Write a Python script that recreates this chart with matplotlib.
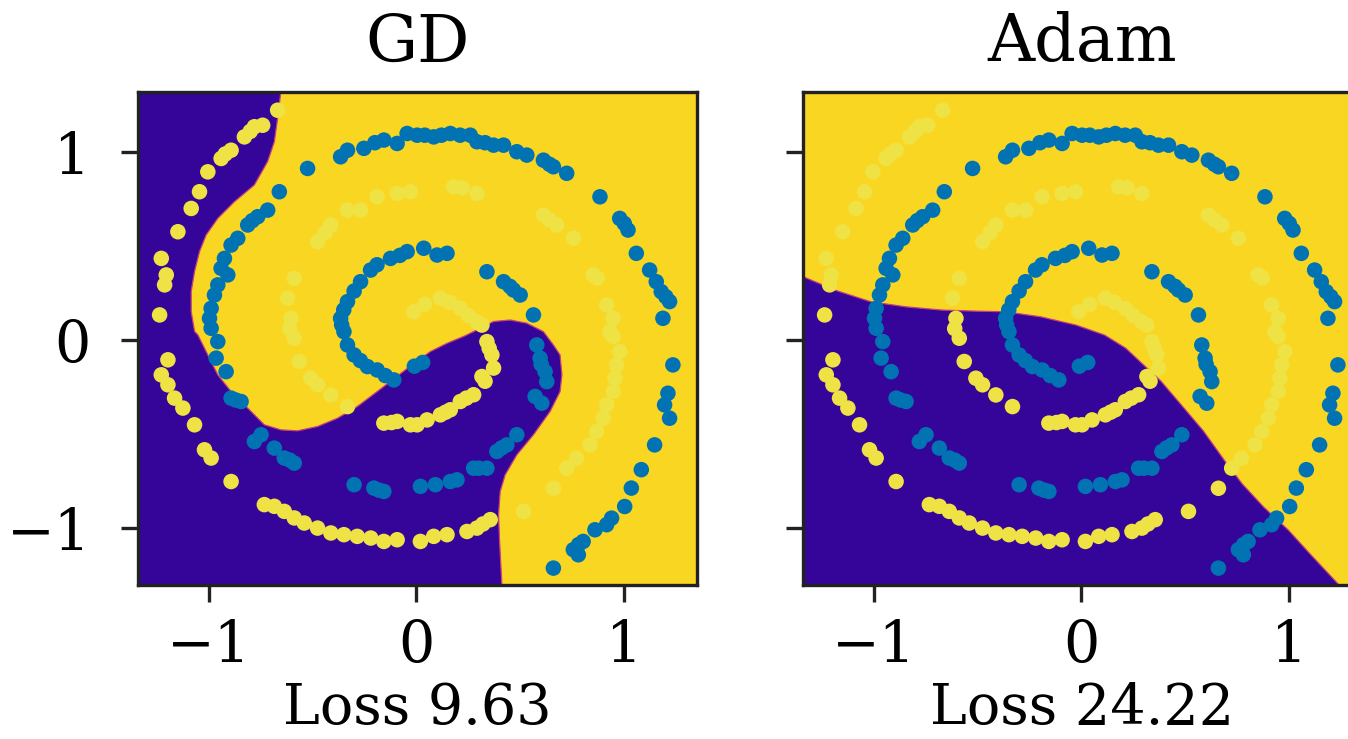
import matplotlib
matplotlib.use("Agg")
import matplotlib.pyplot as plt

# ---------------- data ----------------
titles = ["GD", "Adam"]
loss_labels = ["Loss 9.63", "Loss 24.22"]
ticks = [-1, 0, 1]
xlim = (-1.34, 1.35)
ylim = (-1.305, 1.32)

# blue spiral (class 0), from centre outward
blue_x = [0.03, -0.01, -0.109, -0.15, -0.189, -0.236, -0.27, -0.30, -0.332, -0.349, -0.36, -0.365,
          -0.35, -0.332, -0.30, -0.269, -0.221, -0.19, -0.125, -0.08, -0.045, 0.035, 0.099, 0.147,
          0.339, 0.419, 0.45, 0.467, 0.499, 0.563, 0.579, 0.595, 0.60, 0.619, 0.627, 0.571, 0.603,
          0.483, 0.435, 0.41, 0.387, 0.339, 0.30, 0.275, 0.195, 0.163, 0.091, 0.019,
          -0.157, -0.18, -0.205, -0.30,
          -0.588, -0.61, -0.636, -0.684, -0.748, -0.78,
          -0.844, -0.87, -0.892, -0.916, -0.964, -0.956, -0.988, -0.996, -0.988, -0.972, -0.956,
          -0.908, -0.94, -0.924, -0.892, -0.86, -0.812, -0.79, -0.764, -0.716, -0.66,
          -0.524, -0.365, -0.332, -0.253, -0.2, -0.157, -0.093, -0.045, 0.003, 0.04, 0.083, 0.12,
          0.163, 0.21, 0.259, 0.291, 0.33, 0.371, 0.419, 0.483, 0.531, 0.611, 0.64, 0.659, 0.723,
          0.883, 0.978, 1.0, 1.018, 1.058, 1.122, 1.154, 1.178, 1.2, 1.218, 1.186,
          1.234, 1.21, 1.194, 1.218, 1.146, 1.082, 1.034, 1.002, 0.939, 0.915, 0.859, 0.802,
          0.78, 0.755, 0.779, 0.659]
blue_y = [-0.12, -0.14, -0.213, -0.19, -0.16, -0.142, -0.11, -0.08, -0.027, 0.044, 0.08, 0.115,
          0.16, 0.204, 0.26, 0.31, 0.372, 0.40, 0.434, 0.45, 0.47, 0.488, 0.452, 0.461,
          0.363, 0.31, 0.285, 0.266, 0.239, 0.133, -0.027, -0.097, -0.13, -0.169, -0.222, -0.301, -0.337,
          -0.505, -0.559, -0.575, -0.594, -0.683, -0.683, -0.683, -0.745, -0.754, -0.771, -0.78,
          -0.807, -0.80, -0.789, -0.771,
          -0.656, -0.64, -0.629, -0.576, -0.505, -0.541,
          -0.328, -0.32, -0.31, -0.169, -0.097, -0.009, 0.062, 0.115, 0.168, 0.239, 0.293,
          0.346, 0.381, 0.434, 0.505, 0.541, 0.612, 0.635, 0.656, 0.691, 0.789,
          0.913, 0.975, 1.01, 1.02, 1.05, 1.064, 1.046, 1.099, 1.09, 1.09, 1.081, 1.09,
          1.099, 1.09, 1.09, 1.055, 1.05, 1.037, 1.037, 1.002, 0.984, 0.957, 0.935, 0.922, 0.887,
          0.762, 0.647, 0.62, 0.585, 0.461, 0.372, 0.31, 0.257, 0.23, 0.204, 0.115,
          -0.133, -0.284, -0.346, -0.417, -0.559, -0.691, -0.789, -0.887, -0.949, -0.984, -1.011, -1.073,
          -1.09, -1.117, -1.144, -1.215]

# yellow spiral (class 1), from centre outward
yellow_x = [-0.013, 0.04, 0.115, 0.16, 0.211, 0.25, 0.29, 0.315, 0.339, 0.35, 0.363, 0.371, 0.315,
            0.33, 0.275, 0.24, 0.211, 0.163, 0.14, 0.115, 0.051, 0.003, -0.029, -0.093, -0.12, -0.157,
            -0.332, -0.412, -0.476, -0.508, -0.564, -0.588, -0.61, -0.604, -0.62, -0.588,
            -0.476, -0.44, -0.412, -0.332, -0.268, -0.189, -0.093, -0.029, 0.179, 0.22, 0.291,
            0.611, 0.64, 0.675, 0.755,
            0.85, 0.87, 0.915, 0.947, 0.931, 0.947, 0.979, 0.963, 0.955, 0.947, 0.915, 0.899, 0.867,
            0.835, 0.77, 0.723, 0.659, 0.515, 0.355, 0.32, 0.291, 0.243, 0.147, 0.083, 0.019,
            -0.093, -0.157, -0.22, -0.285, -0.349, -0.412, -0.476, -0.54, -0.588, -0.636, -0.684,
            -0.732, -0.892, -0.988, -1.02, -1.068, -1.124, -1.164, -1.196, -1.228, -1.196,
            -1.236, -1.212, -1.204, -1.228, -1.148, -1.084, -1.044, -1.004, -0.94, -0.92, -0.892,
            -0.828, -0.80, -0.78, -0.74, -0.668]
yellow_y = [0.15, 0.19, 0.222, 0.2, 0.168, 0.13, 0.097, 0.079, -0.009, -0.045, -0.08, -0.15, -0.195,
            -0.22, -0.292, -0.31, -0.328, -0.372, -0.385, -0.399, -0.426, -0.452, -0.452, -0.434, -0.44, -0.443,
            -0.355, -0.293, -0.239, -0.204, -0.115, 0.009, 0.06, 0.115, 0.222, 0.328,
            0.523, 0.57, 0.612, 0.691, 0.691, 0.762, 0.78, 0.789, 0.815, 0.81, 0.78,
            0.665, 0.64, 0.612, 0.541,
            0.346, 0.33, 0.186, 0.115, 0.044, 0.018, -0.062, -0.133, -0.204, -0.275, -0.346, -0.417, -0.488,
            -0.559, -0.63, -0.683, -0.79, -0.913, -0.957, -0.98, -1.002, -1.02, -1.037, -1.046, -1.073,
            -1.064, -1.073, -1.055, -1.046, -1.037, -1.028, -1.002, -0.975, -0.948, -0.913, -0.886,
            -0.877, -0.754, -0.629, -0.585, -0.452, -0.363, -0.31, -0.239, -0.186, -0.106,
            0.133, 0.293, 0.346, 0.434, 0.576, 0.70, 0.789, 0.895, 0.966, 0.99, 1.01,
            1.081, 1.11, 1.135, 1.143, 1.223]

# decision boundaries (purple region lies to the left / below)
gd_bx = [-0.644, -0.668, -0.684, -0.716, -0.78, -0.876, -0.956, -1.012, -1.044, -1.068, -1.084,
         -1.084, -1.068, -1.052, -1.004, -0.956, -0.892, -0.812, -0.732, -0.652, -0.572, -0.476,
         -0.38, -0.285, -0.189, -0.03, 0.067, 0.147, 0.23, 0.291, 0.371, 0.451, 0.531, 0.611, 0.659,
         0.691, 0.70, 0.691, 0.643, 0.563, 0.483, 0.427, 0.403, 0.395, 0.40, 0.411, 0.412]
gd_by = [1.40, 1.18, 1.055, 0.95, 0.825, 0.736, 0.647, 0.559, 0.47, 0.364, 0.258,
         0.152, 0.046, 0.027, -0.08, -0.186, -0.275, -0.363, -0.452, -0.479, -0.484, -0.461,
         -0.417, -0.355, -0.275, -0.14, -0.062, -0.018, 0.02, 0.053, 0.098, 0.106, 0.089, 0.044, -0.027,
         -0.08, -0.186, -0.275, -0.381, -0.505, -0.612, -0.718, -0.807, -0.93, -1.073, -1.30, -1.40]
adam_bx = [-1.50, -1.336, -1.183, -1.013, -0.843, -0.672, -0.502, -0.366, -0.196, -0.026, 0.111,
           0.213, 0.298, 0.383, 0.485, 0.587, 0.689, 0.774, 0.877, 0.996, 1.098, 1.217, 1.32]
adam_by = [0.41, 0.335, 0.264, 0.203, 0.176, 0.159, 0.153, 0.15, 0.123, 0.079, 0.026,
           -0.044, -0.132, -0.22, -0.352, -0.485, -0.643, -0.767, -0.89, -1.013, -1.137, -1.278, -1.40]

# ---------------- style ----------------
PURPLE = "#350498"
YELLOW = "#f9d622"
EDGE = "#c8407f"
BLUE_PT = "#0173b2"
YELLOW_PT = "#efe245"

plt.rcParams["font.family"] = ["DejaVu Serif"]

fig = plt.figure(figsize=(13.48, 7.39), dpi=100)
W, H = 1348.0, 739.0
ax_w, ax_h = 559 / W, 493 / H
bottom = (H - 585) / H
ax1 = fig.add_axes([138 / W, bottom, ax_w, ax_h])
ax2 = fig.add_axes([803 / W, bottom, ax_w, ax_h])

regions = [
    (gd_bx, gd_by, [-1.5, -1.5], [-1.40, 1.40]),
    (adam_bx, adam_by, [-1.5], [-1.40]),
]

for ax, title, loss, (bx, by, cx, cy) in zip([ax1, ax2], titles, loss_labels, regions):
    ax.set_facecolor(YELLOW)
    px = list(bx) + list(cx)
    py = list(by) + list(cy)
    ax.fill(px, py, color=PURPLE, lw=0, zorder=1)
    ax.plot(bx, by, color=EDGE, lw=0.9, zorder=1.5)
    ax.scatter(blue_x, blue_y, s=125, color=BLUE_PT, edgecolors="none", zorder=3)
    ax.scatter(yellow_x, yellow_y, s=125, color=YELLOW_PT, edgecolors="none", zorder=3)
    ax.set_xlim(*xlim)
    ax.set_ylim(*ylim)
    ax.set_xticks(ticks)
    ax.set_yticks(ticks)
    ax.set_title(title, fontsize=47, pad=22)
    ax.set_xlabel(loss, fontsize=40, labelpad=5)
    ax.tick_params(axis="both", labelsize=41, length=12, width=2.4, color="#222222")
    ax.tick_params(axis="x", pad=12)
    ax.tick_params(axis="y", pad=22)
    for sp in ax.spines.values():
        sp.set_linewidth(2.4)
        sp.set_color("#222222")

ax2.set_yticklabels([])

fig.savefig("out.png", dpi=100)
